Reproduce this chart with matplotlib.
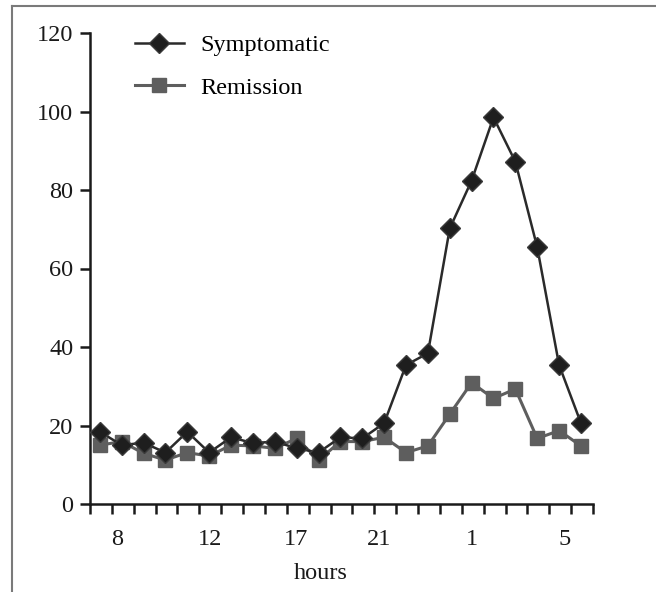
import numpy as np
import matplotlib
matplotlib.use("Agg")
import matplotlib.pyplot as plt
from matplotlib.lines import Line2D

plt.rcParams['font.family'] = ['Liberation Serif', 'DejaVu Serif']

# data (one point per hourly sample)
symptomatic = [18.4, 15.0, 15.6, 13.1, 18.4, 13.1, 17.0, 15.5, 15.9, 14.2, 13.1, 17.0,
               16.7, 20.6, 35.4, 38.4, 70.2, 82.4, 98.5, 87.2, 65.4, 35.4, 20.6]
remission = [15.0, 15.9, 12.9, 11.2, 13.1, 12.2, 15.0, 14.8, 14.2, 16.7, 11.2, 15.9,
             15.9, 17.0, 13.1, 14.8, 22.9, 30.9, 26.9, 29.3, 16.7, 18.7, 14.8]
hour_labels = ['8', '12', '17', '21', '1', '5']
yticks = [0, 20, 40, 60, 80, 100, 120]

n = len(symptomatic)
x = np.arange(n) + 0.45
label_pos = [1.25, 5.5, 9.4, 13.2, 17.45, 21.7]
fs = 17.5

fig = plt.figure(figsize=(6.56, 5.92), dpi=100)
ax = fig.add_axes([90/656, 1-504/592, 503/656, 471/592])

ax.plot(x, remission, color='#5e5e5e', lw=2.2, marker='s', ms=9.5,
        mfc='#5e5e5e', mec='#5e5e5e', label='Remission', zorder=2)
ax.plot(x, symptomatic, color='#2a2a2a', lw=1.8, marker='D', ms=10,
        mfc='#1e1e1e', mec='#3a3a3a', label='Symptomatic', zorder=3)

ax.set_xlim(0, n)
ax.set_ylim(0, 120)
ax.set_yticks(yticks)
ax.set_xticks(label_pos)
ax.set_xticklabels(hour_labels)
ax.set_xticks(np.arange(0, n + 1), minor=True)

for s in ['top', 'right']:
    ax.spines[s].set_visible(False)
for s in ['left', 'bottom']:
    ax.spines[s].set_linewidth(1.8)
    ax.spines[s].set_color('#1a1a1a')

ax.tick_params(axis='y', direction='out', length=7, width=1.8, pad=5,
               labelsize=fs, colors='#1a1a1a')
ax.tick_params(axis='x', which='major', length=0, pad=18, labelsize=fs,
               colors='#1a1a1a')
ax.tick_params(axis='x', which='minor', direction='out', length=7, width=1.8,
               colors='#1a1a1a')

ax.set_xlabel('hours', fontsize=fs, color='#1a1a1a')
ax.xaxis.set_label_coords((321-90)/503, -0.125)

handles = [Line2D([], [], color='#2a2a2a', lw=1.8, marker='D', ms=10,
                  mfc='#1e1e1e', mec='#3a3a3a'),
           Line2D([], [], color='#5e5e5e', lw=2.2, marker='s', ms=9.5,
                  mfc='#5e5e5e', mec='#5e5e5e')]
ax.legend(handles, ['Symptomatic', 'Remission'], loc='upper left',
          bbox_to_anchor=(135/656, 1-34/592), bbox_transform=fig.transFigure,
          frameon=False, fontsize=fs, handlelength=2.0, handletextpad=0.7,
          labelspacing=0.85, borderaxespad=0, borderpad=0)

# partial frame around the figure
fig.add_artist(Line2D([12/656, 1], [1-6/592, 1-6/592], color='#7a7a7a', lw=1.5,
                      transform=fig.transFigure))
fig.add_artist(Line2D([12/656, 12/656], [0, 1-6/592], color='#7a7a7a', lw=1.5,
                      transform=fig.transFigure))

fig.savefig('out.png', dpi=100)
